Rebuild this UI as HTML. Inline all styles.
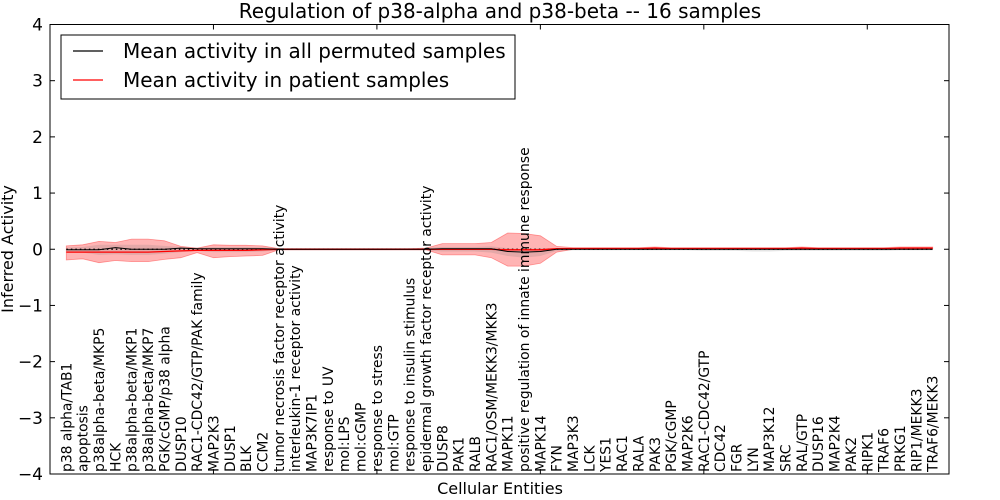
<!DOCTYPE html>
<html><head><meta charset="utf-8"><style>
html,body{margin:0;padding:0;background:#fff;}
svg{display:block;font-family:"DejaVu Sans","Liberation Sans",sans-serif;}
</style></head><body>
<svg id="chart" width="1000" height="500" viewBox="0 0 1000 500" xmlns="http://www.w3.org/2000/svg">
<rect width="1000" height="500" fill="#fff"/>
<text x="500" y="18" font-size="20" text-anchor="middle">Regulation of p38-alpha and p38-beta -- 16 samples</text>
<g id="plot"></g>
<text transform="translate(13,249) rotate(-90)" font-size="16" text-anchor="middle">Inferred Activity</text>
<text x="500" y="494" font-size="16" text-anchor="middle">Cellular Entities</text>
<g>
<rect x="61" y="35" width="454" height="64" fill="#fff" stroke="#000" stroke-width="1"/>
<line x1="73" y1="51" x2="103" y2="51" stroke="#000" stroke-width="1.2"/>
<text x="123" y="58" font-size="20">Mean activity in all permuted samples</text>
<line x1="73" y1="80" x2="103" y2="80" stroke="#f00" stroke-width="1.2"/>
<text x="123" y="87" font-size="20">Mean activity in patient samples</text>
</g>
</svg>
<script>
const categories = ["p38 alpha/TAB1","apoptosis","p38alpha-beta/MKP5","HCK","p38alpha-beta/MKP1","p38alpha-beta/MKP7","PGK/cGMP/p38 alpha","DUSP10","RAC1-CDC42/GTP/PAK family","MAP2K3","DUSP1","BLK","CCM2","tumor necrosis factor receptor activity","interleukin-1 receptor activity","MAP3K7IP1","response to UV","mol:LPS","mol:cGMP","response to stress","mol:GTP","response to insulin stimulus","epidermal growth factor receptor activity","DUSP8","PAK1","RALB","RAC1/OSM/MEKK3/MKK3","MAPK11","positive regulation of innate immune response","MAPK14","FYN","MAP3K3","LCK","YES1","RAC1","RALA","PAK3","PGK/cGMP","MAP2K6","RAC1-CDC42/GTP","CDC42","FGR","LYN","MAP3K12","SRC","RAL/GTP","DUSP16","MAP2K4","PAK2","RIPK1","TRAF6","PRKG1","RIP1/MEKK3","TRAF6/MEKK3"];
const patientMean = [-0.05,-0.05,-0.05,-0.05,-0.05,-0.05,-0.04,-0.03,-0.02,-0.02,-0.02,-0.02,-0.01,0,0,0,0,0,0,0,0,0,0,0,0,0,0,-0.01,-0.01,-0.01,0.01,0.01,0.01,0.01,0.01,0.01,0.02,0.01,0.01,0.01,0.01,0.01,0.01,0.01,0.01,0.02,0.01,0.01,0.01,0.01,0.01,0.02,0.02,0.02];
const patientHi = [0.06,0.08,0.14,0.12,0.18,0.18,0.15,0.05,0.02,0.08,0.07,0.07,0.06,0.01,0.01,0.01,0.01,0.01,0.01,0.01,0.01,0.01,0.02,0.1,0.1,0.1,0.12,0.29,0.28,0.24,0.05,0.03,0.03,0.03,0.03,0.03,0.04,0.03,0.03,0.03,0.03,0.03,0.03,0.03,0.03,0.04,0.03,0.03,0.03,0.03,0.03,0.04,0.04,0.04];
const patientLo = [-0.19,-0.17,-0.24,-0.2,-0.22,-0.22,-0.18,-0.15,-0.06,-0.15,-0.13,-0.12,-0.11,-0.01,-0.01,-0.01,-0.01,-0.01,-0.01,-0.01,-0.01,-0.01,-0.01,-0.1,-0.1,-0.1,-0.15,-0.3,-0.3,-0.25,-0.05,0,0,0,0,0,0,0,0,0,0,0,0,0,0,0,0,0,0,0,0,0,0,0.01];
const permMean = [-0.01,-0.01,-0.01,0.03,0,0,0,0.02,0.01,0.01,0.01,0.01,0.01,0,0,0,0,0,0,0,0,0,0,0.01,0.01,0.01,0.01,-0.04,-0.05,-0.04,0,0,0,0,0,0,0,0,0,0,0,0,0,0,0,0,0,0,0,0,0,0,0,0];
const permHi = [0.03,0.04,0.08,0.08,0.08,0.08,0.06,0.04,0.03,0.04,0.04,0.04,0.03,0.02,0.02,0.02,0.02,0.02,0.02,0.02,0.02,0.02,0.02,0.04,0.04,0.04,0.05,0.02,0.0,0.02,0.02,0.02,0.02,0.02,0.02,0.02,0.02,0.02,0.02,0.02,0.02,0.02,0.02,0.02,0.02,0.02,0.02,0.02,0.02,0.02,0.02,0.02,0.02,0.02];
const permLo = [-0.06,-0.06,-0.1,-0.09,-0.1,-0.1,-0.08,-0.05,-0.03,-0.05,-0.05,-0.05,-0.04,-0.02,-0.02,-0.02,-0.02,-0.02,-0.02,-0.02,-0.02,-0.02,-0.02,-0.04,-0.04,-0.04,-0.06,-0.12,-0.15,-0.12,-0.03,-0.02,-0.02,-0.02,-0.02,-0.02,-0.02,-0.02,-0.02,-0.03,-0.03,-0.03,-0.04,-0.04,-0.03,-0.03,-0.03,-0.03,-0.03,-0.03,-0.03,-0.02,-0.02,-0.02];
const yTicks = [4,3,2,1,0,-1,-2,-3,-4];
const yTickLabels = ["4","3","2","1","0","\u22121","\u22122","\u22123","\u22124"];
const xTicks = [10,20,30,40,50];

const L=50,R=949,T=24.5,B=474;
const xMin=0,xMax=55,yMin=-4,yMax=4;
function xs(v){return L+(v-xMin)/(xMax-xMin)*(R-L);}
function ys(v){return B-(v-yMin)/(yMax-yMin)*(B-T);}
function xi(i){return xs(i+1);}
const NS="http://www.w3.org/2000/svg";
const g=document.getElementById('plot');
function mk(t,a){const e=document.createElementNS(NS,t);for(const k in a)e.setAttribute(k,a[k]);g.appendChild(e);return e;}
function band(hi,lo){let d='';hi.forEach((v,i)=>{d+=(i?'L':'M')+xi(i).toFixed(1)+','+ys(v).toFixed(1);});for(let i=lo.length-1;i>=0;i--)d+='L'+xi(i).toFixed(1)+','+ys(lo[i]).toFixed(1);return d+'Z';}
function line(arr){return arr.map((v,i)=>(i?'L':'M')+xi(i).toFixed(1)+','+ys(v).toFixed(1)).join('');}

let e;
e=mk('path',{d:band(patientHi,patientLo),fill:'rgba(255,40,40,0.35)',stroke:'rgba(255,60,60,0.5)','stroke-width':'0.8'});


e=mk('path',{d:band(permHi,permLo),fill:'rgba(120,120,120,0.2)',stroke:'none'});


e=mk('line',{x1:xi(0),x2:xi(categories.length-1),y1:ys(0),y2:ys(0),stroke:'#000','stroke-width':'1.2','stroke-dasharray':'1.5,3'});


e=mk('path',{d:line(patientMean),fill:'none',stroke:'#f00','stroke-width':'1.3'});


e=mk('path',{d:line(permMean),fill:'none',stroke:'#000','stroke-width':'1'});



yTicks.forEach((v,i)=>{
  const y=ys(v);
  let t=mk('line',{x1:L,x2:L+5,y1:y,y2:y,stroke:'#000'});
  
  
  t=mk('line',{x1:R-5,x2:R,y1:y,y2:y,stroke:'#000'});
  
  
  const tx=mk('text',{x:L-7,y:y+6,'font-size':'17','text-anchor':'end'});
  tx.textContent=yTickLabels[i];
  
  
});
xTicks.forEach(v=>{
  const x=xs(v);
  let t=mk('line',{x1:x,x2:x,y1:T,y2:T+5,stroke:'#000'});
  
  
  t=mk('line',{x1:x,x2:x,y1:B-5,y2:B,stroke:'#000'});
  
  
});
categories.forEach((c,i)=>{
  const x=xi(i);
  const tx=mk('text',{transform:'translate('+(x+5).toFixed(1)+','+(B-2)+') rotate(-90)','font-size':'13.9'});
  tx.textContent=c;
  
  
});
e=mk('rect',{x:L,y:T,width:R-L,height:B-T,fill:'none',stroke:'#000','stroke-width':'1'});


</script>
</body></html>
